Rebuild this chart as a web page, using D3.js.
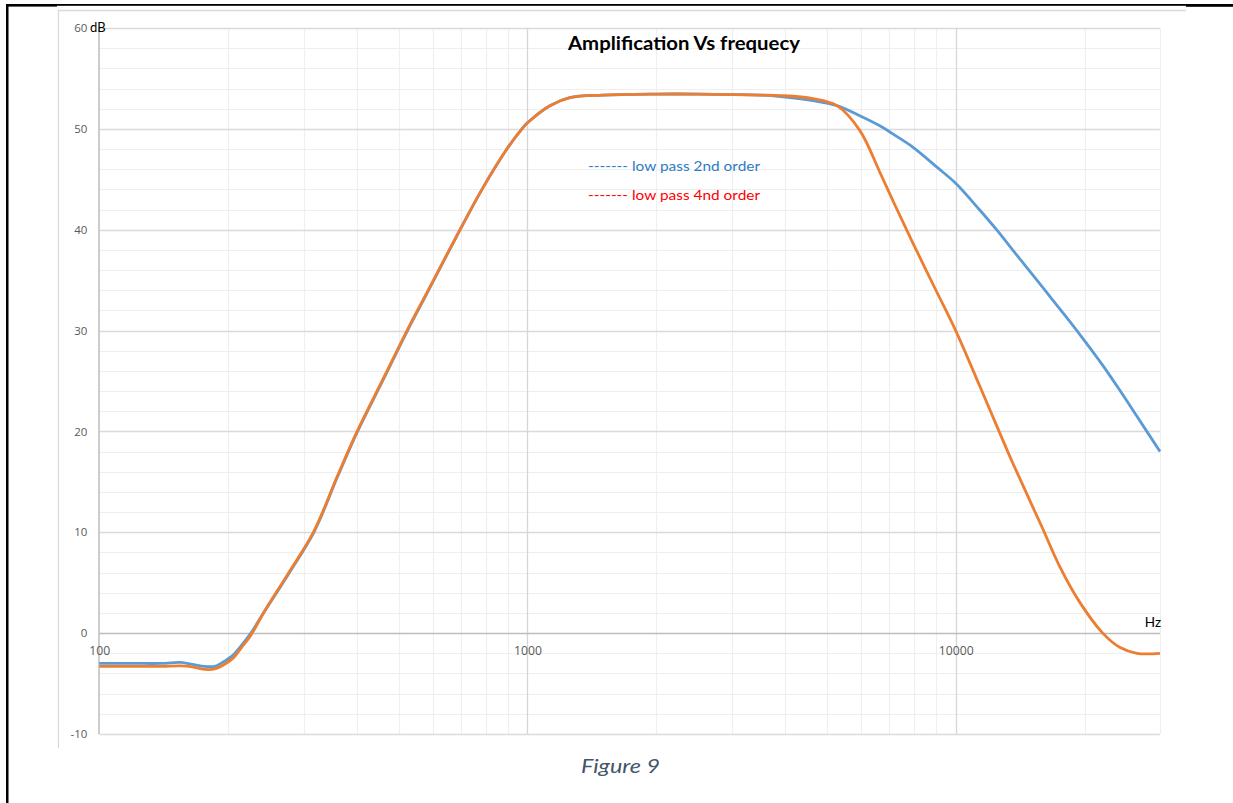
<!DOCTYPE html>
<html>
<head>
<meta charset="utf-8">
<script src="https://cdn.jsdelivr.net/npm/d3@7"></script>
<style>
  html, body { margin: 0; padding: 0; background: #ffffff; }
  svg { display: block; }
</style>
</head>
<body>
<svg id="chart" width="1233" height="803"></svg>
<script>
// Measured frequency response of two active filter stages
const freqHz = [100, 120, 140, 155, 165, 177, 186, 194, 205, 215, 226, 241, 276, 317, 360, 400, 460, 526, 576, 684, 783, 895, 975,
  1000, 1128, 1256, 1500, 2000, 2500, 3000, 3500, 3900, 4640, 5280, 5970, 6650, 7130, 7940, 9040,
  10000, 11380, 12540, 13580, 15950, 17500, 19460, 22050, 24150, 26500, 30000];

const gainSecondOrder = [-3.0, -3.0, -3.0, -2.9, -3.1, -3.3, -3.3, -2.9, -2.2, -1.2, 0.0, 1.9, 5.8, 10.0, 15.5, 19.9, 25.1, 30.1, 33.3, 39.4, 44.0, 48.0, 50.1,
  50.6, 52.3, 53.1, 53.35, 53.45, 53.45, 53.4, 53.35, 53.2, 52.8, 52.3, 51.3, 50.3, 49.5, 48.2, 46.2,
  44.6, 41.95, 39.85, 38.0, 34.3, 32.15, 29.65, 26.55, 24.1, 21.5, 18.0];

const gainFourthOrder = [-3.3, -3.3, -3.3, -3.25, -3.35, -3.6, -3.55, -3.2, -2.5, -1.4, -0.2, 1.9, 5.9, 10.1, 15.6, 20.0, 25.2, 30.2, 33.4, 39.4, 44.0, 48.0, 50.1,
  50.6, 52.3, 53.1, 53.35, 53.45, 53.45, 53.4, 53.35, 53.3, 53.0, 52.3, 49.85, 45.7, 42.9, 38.7, 33.8,
  30.0, 24.5, 20.3, 16.9, 10.4, 6.6, 3.1, 0.0, -1.4, -2.0, -2.0];

const yTickValues = [-10, 0, 10, 20, 30, 40, 50, 60];
const xTickValues = [100, 1000, 10000];
const legendLabels = ["------- low pass 2nd order", "------- low pass 4nd order"];
const titleText = "Amplification Vs frequecy";
const captionText = "Figure 9";

const svg = d3.select("#chart");

// page border of the document
svg.append("rect").attr("x", 6).attr("y", 4).attr("width", 2.5).attr("height", 799).attr("fill", "#000");
svg.append("rect").attr("x", 6).attr("y", 4).attr("width", 51).attr("height", 2.6).attr("fill", "#000");
svg.append("rect").attr("x", 57).attr("y", 4).attr("width", 1129).attr("height", 1.8).attr("fill", "#000");
svg.append("rect").attr("x", 1186).attr("y", 4).attr("width", 47).attr("height", 2.8).attr("fill", "#000");

// chart object frame
svg.append("line").attr("x1", 58.5).attr("x2", 58.5).attr("y1", 10).attr("y2", 748)
  .attr("stroke", "#d9d9d9").attr("stroke-width", 1.2);
svg.append("line").attr("x1", 58).attr("x2", 1186).attr("y1", 10.5).attr("y2", 10.5)
  .attr("stroke", "#d9d9d9").attr("stroke-width", 1.4);

const x = d3.scaleLog().domain([100, 30000]).range([99.3, 1160]);
const y = d3.scaleLinear().domain([-10, 60]).range([734, 28]);

const snap = v => Math.round(v) + 0.5;

// grid
const grid = svg.append("g");
const yMinor = d3.range(-10, 61, 2).filter(v => v % 10 !== 0);
const xMinor = [];
[100, 1000, 10000].forEach(d => { for (let k = 2; k <= 9; k++) if (k * d <= 30000) xMinor.push(k * d); });

grid.selectAll("line.hmin").data(yMinor).join("line")
  .attr("x1", x.range()[0]).attr("x2", x.range()[1])
  .attr("y1", d => snap(y(d))).attr("y2", d => snap(y(d)))
  .attr("stroke", "#efefef").attr("stroke-width", 1.2);
grid.selectAll("line.vmin").data(xMinor).join("line")
  .attr("x1", d => snap(x(d))).attr("x2", d => snap(x(d)))
  .attr("y1", y(60)).attr("y2", y(-10))
  .attr("stroke", "#efefef").attr("stroke-width", 1.2);
grid.selectAll("line.hmaj").data(yTickValues.filter(v => v !== 0)).join("line")
  .attr("x1", x.range()[0]).attr("x2", x.range()[1])
  .attr("y1", d => snap(y(d))).attr("y2", d => snap(y(d)))
  .attr("stroke", "#dadada").attr("stroke-width", 1.3);
grid.selectAll("line.vmaj").data([1000, 10000]).join("line")
  .attr("x1", d => snap(x(d))).attr("x2", d => snap(x(d)))
  .attr("y1", y(60)).attr("y2", y(-10))
  .attr("stroke", "#d6d6d6").attr("stroke-width", 1.3);

// axis lines
grid.append("line").attr("x1", snap(x(100)) - 0.5).attr("x2", snap(x(100)) - 0.5)
  .attr("y1", y(60)).attr("y2", y(-10)).attr("stroke", "#bdbdbd").attr("stroke-width", 1.5);
grid.append("line").attr("x1", x.range()[0]).attr("x2", x.range()[1])
  .attr("y1", snap(y(0))).attr("y2", snap(y(0))).attr("stroke", "#bdbdbd").attr("stroke-width", 1.5);

// tick labels
const yAxis = svg.append("g").attr("transform", `translate(${x.range()[0]},0)`)
  .call(d3.axisLeft(y).tickValues(yTickValues).tickFormat(d => String(d)).tickSize(0).tickPadding(12));
yAxis.select(".domain").remove();
yAxis.selectAll("text").attr("fill", "#595959").style("font-family", "'Open Sans', sans-serif").style("font-size", "11.5px");

const xAxis = svg.append("g").attr("transform", `translate(0,${y(0)})`)
  .call(d3.axisBottom(x).tickValues(xTickValues).tickFormat(d => String(d)).tickSize(0).tickPadding(13));
xAxis.select(".domain").remove();
xAxis.selectAll("text").attr("fill", "#595959").style("font-family", "'Open Sans', sans-serif").style("font-size", "12.2px");

// unit labels
svg.append("text").attr("x", 90).attr("y", 32).text("dB")
  .style("font-family", "Lato, sans-serif").style("font-size", "13px").attr("fill", "#000");
svg.append("text").attr("x", 1161).attr("y", 627).attr("text-anchor", "end").text("Hz")
  .style("font-family", "Lato, sans-serif").style("font-size", "13.5px").attr("fill", "#000");

// response curves (smoothed through the measured points)
const rows = freqHz.map((f, i) => ({ f, a: gainSecondOrder[i], b: gainFourthOrder[i] }));
const curve = key => d3.line().x(d => x(d.f)).y(d => y(d[key])).curve(d3.curveCatmullRom.alpha(0.5));

svg.append("path").datum(rows).attr("d", curve("a"))
  .attr("fill", "none").attr("stroke", "#5B9BD5").attr("stroke-width", 2.8).attr("stroke-linejoin", "round");
svg.append("path").datum(rows).attr("d", curve("b"))
  .attr("fill", "none").attr("stroke", "#ED7D31").attr("stroke-width", 2.8).attr("stroke-linejoin", "round");

// title
svg.append("text").attr("x", 568).attr("y", 50).text(titleText)
  .attr("textLength", 232).attr("lengthAdjust", "spacingAndGlyphs")
  .style("font-family", "Lato, sans-serif").style("font-weight", "bold").style("font-size", "18.5px").attr("fill", "#000");

// legend text boxes
svg.append("text").attr("x", 588).attr("y", 171).text(legendLabels[0])
  .attr("textLength", 172).attr("lengthAdjust", "spacingAndGlyphs")
  .style("font-family", "Lato, sans-serif").style("font-size", "14px").attr("fill", "#2E7BC4");
svg.append("text").attr("x", 588).attr("y", 200).text(legendLabels[1])
  .attr("textLength", 172).attr("lengthAdjust", "spacingAndGlyphs")
  .style("font-family", "Lato, sans-serif").style("font-size", "14px").attr("fill", "#FF0000");

// caption
svg.append("text").attr("x", 581).attr("y", 773).text(captionText)
  .attr("textLength", 79).attr("lengthAdjust", "spacingAndGlyphs")
  .style("font-family", "Lato, sans-serif").style("font-style", "italic").style("font-size", "19.5px").attr("fill", "#44546A");
</script>
</body>
</html>
